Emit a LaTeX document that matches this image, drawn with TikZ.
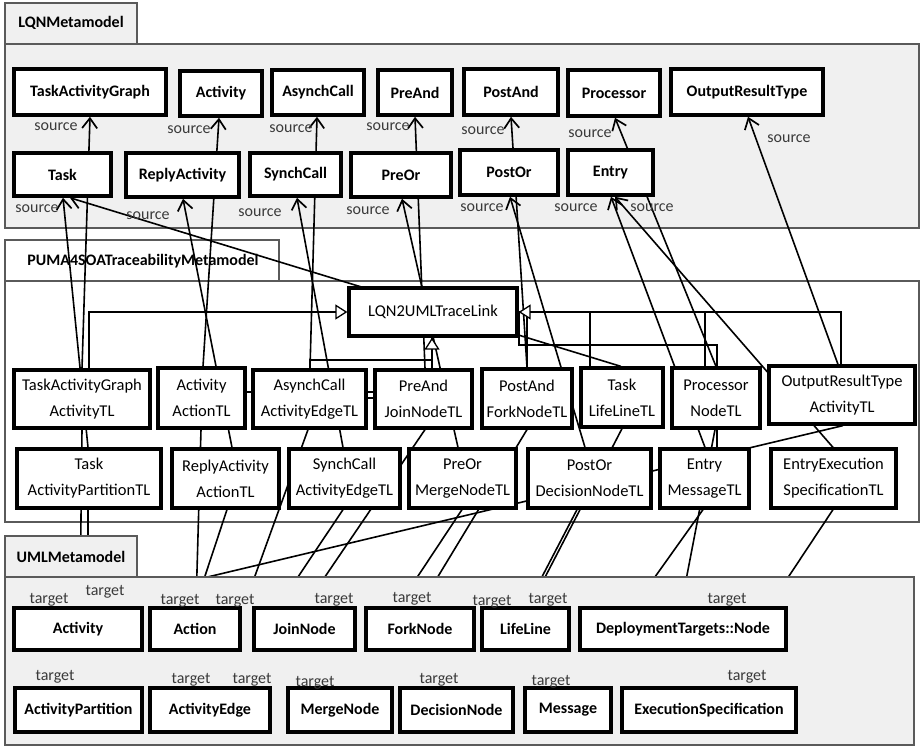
\documentclass[tikz,border=0pt]{standalone}
\usepackage{fontspec}
\setmainfont{Carlito}
\usetikzlibrary{arrows.meta}
\definecolor{pkgfill}{HTML}{F0F0F0}
\definecolor{pkgline}{HTML}{5A5A5A}
\definecolor{lbltext}{HTML}{3A3A3A}
\pgfdeclarelayer{pkgs}
\pgfdeclarelayer{lines}
\pgfdeclarelayer{umlpkg}
\pgfdeclarelayer{uml}
\pgfsetlayers{pkgs,lines,main,umlpkg,uml}
% box from its corners: style, name, x1, y1, x2, y2, text
\newcommand\mkbox[7]{%
  \node[#1, minimum width={(#5-#3)*1pt}, minimum height={(#6-#4)*1pt}]
    (#2) at ({(#3+#5)/2},{(#4+#6)/2}) {#7};}
\begin{document}
\begin{tikzpicture}[x=1pt,y=-1pt,
  pkg/.style={draw=pkgline, line width=1.4pt},
  pkgtitle/.style={font=\bfseries\fontsize{16}{19}\selectfont, inner sep=0pt},
  box/.style={draw=black, line width=3.6pt, fill=white, inner sep=0pt, align=center,
    font=\bfseries\fontsize{16}{19}\selectfont},
  tlbox/.style={box, line width=3.2pt, font=\fontsize{16.5}{26}\selectfont},
  ln/.style={line width=1.6pt},
  src/.style={ln, -{Straight Barb[length=10pt,width=15pt,line width=1.7pt]}},
  gen/.style={ln, -{Triangle[open,length=12pt,width=15pt,line width=1.3pt,fill=white]}},
  lbl/.style={font=\fontsize{16}{19}\selectfont, text=lbltext, inner sep=0pt},
]
\useasboundingbox (0,0) rectangle (920,747);

% ---------- packages (LQN and traceability) ----------
\begin{pgfonlayer}{pkgs}
  \draw[pkg, fill=pkgfill] (5,44) rectangle (919,228);
  \draw[pkg, fill=pkgfill] (5,3) rectangle (137,44);
  \node[pkgtitle] (lqnpkg) at (71,23) {LQNMetamodel};
  \draw[pkg, fill=white] (5,281) rectangle (919,522);
  \draw[pkg, fill=white] (5,240) rectangle (279,281);
  \node[pkgtitle] (pumapkg) at (143,261) {PUMA4SOATraceabilityMetamodel};
\end{pgfonlayer}

% ---------- LQN metaclasses ----------
\mkbox{box}{lTAG}{14}{69}{166}{115}{TaskActivityGraph}
\mkbox{box}{lAct}{180}{71}{262}{116}{Activity}
\mkbox{box}{lAsynch}{272}{70}{364}{115}{AsynchCall}
\mkbox{box}{lPreAnd}{378}{70}{452}{115}{PreAnd}
\mkbox{box}{lPostAnd}{464}{69}{558}{115}{PostAnd}
\mkbox{box}{lProc}{568}{70}{660}{116}{Processor}
\mkbox{box}{lORT}{671}{69}{823}{115}{OutputResultType}
\mkbox{box}{lTask}{14}{153}{111}{196}{Task}
\mkbox{box}{lReply}{126}{153}{239}{197}{ReplyActivity}
\mkbox{box}{lSynch}{250}{153}{341}{196}{SynchCall}
\mkbox{box}{lPreOr}{351}{153}{451}{197}{PreOr}
\mkbox{box}{lPostOr}{460}{150}{558}{195}{PostOr}
\mkbox{box}{lEntry}{568}{150}{653}{195}{Entry}

% ---------- trace links ----------
\mkbox{tlbox}{tl}{349}{288}{517}{336}{LQN2UMLTraceLink}
\mkbox{tlbox}{tTAG}{14}{370}{150}{428}{TaskActivityGraph\\ActivityTL}
\mkbox{tlbox}{tAct}{158}{368}{245}{428}{Activity\\ActionTL}
\mkbox{tlbox}{tAsynch}{253}{370}{366}{428}{AsynchCall\\ActivityEdgeTL}
\mkbox{tlbox}{tPreAnd}{375}{370}{472}{428}{PreAnd\\JoinNodeTL}
\mkbox{tlbox}{tPostAnd}{482}{369}{572}{428}{PostAnd\\ForkNodeTL}
\mkbox{tlbox}{tLife}{581}{368}{663}{427}{Task\\LifeLineTL}
\mkbox{tlbox}{tProc}{672}{368}{760}{428}{Processor\\NodeTL}
\mkbox{tlbox}{tORT}{769}{366}{915}{424}{OutputResultType\\ActivityTL}
\mkbox{tlbox}{tTask}{17}{449}{161}{508}{Task\\ActivityPartitionTL}
\mkbox{tlbox}{tReply}{172}{449}{279}{508}{ReplyActivity\\ActionTL}
\mkbox{tlbox}{tSynch}{289}{449}{400}{508}{SynchCall\\ActivityEdgeTL}
\mkbox{tlbox}{tPreOr}{409}{449}{516}{508}{PreOr\\MergeNodeTL}
\mkbox{tlbox}{tPostOr}{528}{449}{651}{508}{PostOr\\DecisionNodeTL}
\mkbox{tlbox}{tEntry}{660}{449}{749}{508}{Entry\\MessageTL}
\mkbox{tlbox}{tEES}{771}{449}{896}{508}{EntryExecution\\SpecificationTL}

% ---------- UML package and metaclasses ----------
\begin{pgfonlayer}{umlpkg}
  \draw[pkg, fill=pkgfill] (5,577) rectangle (914,745);
  \draw[pkg, fill=pkgfill] (5,536) rectangle (137,577);
  \node[pkgtitle] (umlpkg) at (71,557) {UMLMetamodel};
\end{pgfonlayer}
\begin{pgfonlayer}{uml}
\mkbox{box}{uAct}{14}{608}{142}{650}{Activity}
\mkbox{box}{uAction}{150}{608}{240}{650}{Action}
\mkbox{box}{uJoin}{254}{608}{355}{650}{JoinNode}
\mkbox{box}{uFork}{366}{608}{474}{650}{ForkNode}
\mkbox{box}{uLife}{482}{608}{569}{650}{LifeLine}
\mkbox{box}{uNode}{580}{608}{786}{650}{DeploymentTargets::Node}
\mkbox{box}{uAP}{15}{688}{142}{732}{ActivityPartition}
\mkbox{box}{uAE}{150}{688}{270}{732}{ActivityEdge}
\mkbox{box}{uMerge}{288}{688}{392}{732}{MergeNode}
\mkbox{box}{uDec}{400}{688}{513}{732}{DecisionNode}
\mkbox{box}{uMsg}{525}{688}{611}{732}{Message}
\mkbox{box}{uES}{622}{688}{796}{732}{ExecutionSpecification}
% target role names
\foreach \px/\py [count=\i] in {49/600,105/592,180/601,235/601,334/600,412/599,492/602,548/600,727/600,
                     55/677,191/680,252/680,315/683,439/680,551/682,747/677}
  \node[lbl] (tgt\i) at (\px,\py) {target};
\end{pgfonlayer}

% ---------- source role names ----------
\foreach \px/\py [count=\i] in {56/127,189/130,291/129,388/127,483/131,590/134,789/139,
                     37/209,148/216,260/213,368/211,482/208,576/208,652/208}
  \node[lbl] (src\i) at (\px,\py) {source};

% ---------- connectors ----------
\begin{pgfonlayer}{lines}
  % trace link -> LQN source
  \draw[src] (tTAG.north -| 82,0) -- (lTAG.south -| 90,0);
  \draw[src] (tTask.north -| 88,0) -- (lTask.south -| 63,0);
  \draw[src] (tLife.north -| 621,0) -- (lTask.south -| 70,0);
  \draw[src] (tAct.north -| 203,0) -- (lAct.south -| 219,0);
  \draw[src] (tReply.north -| 232,0) -- (lReply.south -| 183,0);
  \draw[src] (tAsynch.north -| 310,0) -- (lAsynch.south -| 317,0);
  \draw[src] (tSynch.north -| 343,0) -- (lSynch.south -| 297,0);
  \draw[src] (tPreAnd.north -| 425,0) -- (lPreAnd.south -| 415,0);
  \draw[src] (tPreOr.north -| 458,0) -- (lPreOr.south -| 402,0);
  \draw[src] (tPostAnd.north -| 527,0) -- (lPostAnd.south -| 511,0);
  \draw[src] (tPostOr.north -| 585,0) -- (lPostOr.south -| 510,0);
  \draw[src] (tProc.north -| 716,0) -- (lProc.south -| 615,0);
  \draw[src] (tEntry.north -| 705,0) -- (lEntry.south -| 611,0);
  \draw[src] (tEES.north -| 833,0) -- (lEntry.south -| 615,0);
  \draw[src] (tORT.north -| 838,0) -- (lORT.south -| 748,0);
  % trace link -> UML target
  \draw[ln] (tTAG.south -| 82,0) -- (uAct.north -| 80,0);
  \draw[ln] (tTask.south -| 88,0) -- (uAP.north -| 88,0);
  \draw[ln] (tAct.south -| 201,0) -- (uAction.north -| 196,0);
  \draw[ln] (tReply.south -| 227,0) -- (uAction.north -| 195,0);
  \draw[ln] (tAsynch.south -| 308,0) -- (uAE.north -| 215,0);
  \draw[ln] (tSynch.south -| 343,0) -- (uAE.north -| 225,0);
  \draw[ln] (tPreAnd.south -| 425,0) -- (uJoin.north -| 305,0);
  \draw[ln] (tPreOr.south -| 462,0) -- (uMerge.north -| 345,0);
  \draw[ln] (tPostAnd.south -| 527,0) -- (uFork.north -| 420,0);
  \draw[ln] (tPostOr.south -| 577,0) -- (uDec.north -| 485,0);
  \draw[ln] (tLife.south -| 622,0) -- (uLife.north -| 530,0);
  \draw[ln] (tEntry.south -| 703,0) -- (uMsg.north -| 577,0);
  \draw[ln] (tProc.south -| 715,0) -- (uNode.north -| 681,0);
  \draw[ln] (tEES.south -| 833,0) -- (uES.north -| 716,0);
  \draw[ln] (tORT.south -| 843,0) -- (uAct.north -| 85,0);
  % generalizations to LQN2UMLTraceLink
  \draw[gen] (tTAG.north -| 89,0) |- (tl.west);
  \draw[ln] (tPreAnd.north -| 432,0) -- (tl.south -| 432,0);
  \draw[gen] (tAsynch.north -| 310,0) |- (432,360) -- (tl.south -| 432,0);
  \draw[ln] (tAct.east |- 0,392) -- (tPreAnd.west |- 0,392);
  \draw[ln] (tAsynch.east |- 0,398) -- (tPreAnd.west |- 0,398);
  \draw[ln] (tPostAnd.north -| 527,0) |- (tl.east);
  \draw[ln] (tLife.north -| 590,0) |- (tl.east);
  \draw[ln] (tProc.north -| 705,0) |- (tl.east);
  \draw[ln] (tEntry.north -| 717,0) |- (519,345) |- (tl.east);
  \draw[gen] (tORT.north -| 841,0) |- (tl.east);
\end{pgfonlayer}
\end{tikzpicture}
\end{document}
